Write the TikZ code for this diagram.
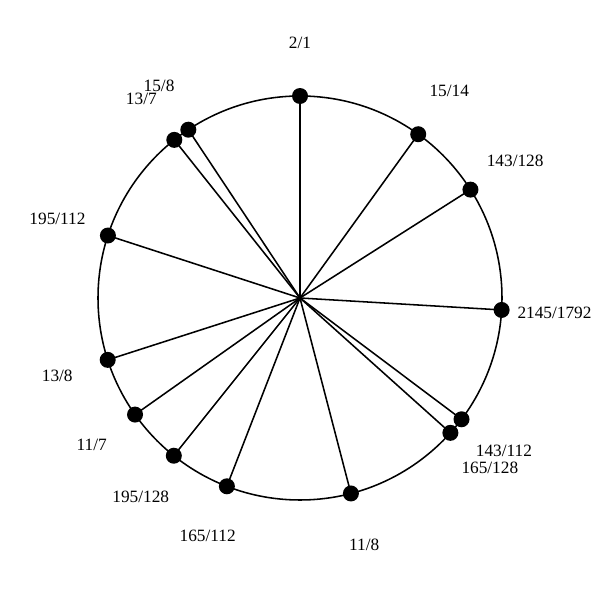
\documentclass[tikz,border=0pt]{standalone}
\usepackage{fontspec}
\setmainfont{Liberation Serif}
\usetikzlibrary{calc}
\begin{document}
\begin{tikzpicture}[
  ring/.style={line width=1.1pt},
  spoke/.style={line width=1.1pt},
  dotnode/.style={circle, fill=black, minimum size=0.4cm, inner sep=0pt},
  ratiolabel/.style={font=\fontsize{12.3}{14}\selectfont, inner sep=0pt}
]
\useasboundingbox (0,0) rectangle (15,15);
\coordinate (c) at (7.5,7.55);
\draw[ring] (c) circle (5.05);
\foreach \i/\num/\den/\txt in {1/2/1/{2/1},2/15/14/{15/14},3/143/128/{143/128},4/2145/1792/{2145/1792},5/143/112/{143/112},6/165/128/{165/128},7/11/8/{11/8},8/165/112/{165/112},9/195/128/{195/128},10/11/7/{11/7},11/13/8/{13/8},12/195/112/{195/112},13/13/7/{13/7},14/15/8/{15/8}}{
  \pgfmathsetmacro{\ang}{90-360*ln(\num/\den)/ln(2)}
  \node[dotnode] (d\i) at ($(c)+(\ang:5.05)$) {};
  \draw[spoke] (c) -- (d\i.center);
  \node[ratiolabel] (l\i) at ($(c)+(\ang:6.375)$) {\txt};
}
\end{tikzpicture}
\end{document}
